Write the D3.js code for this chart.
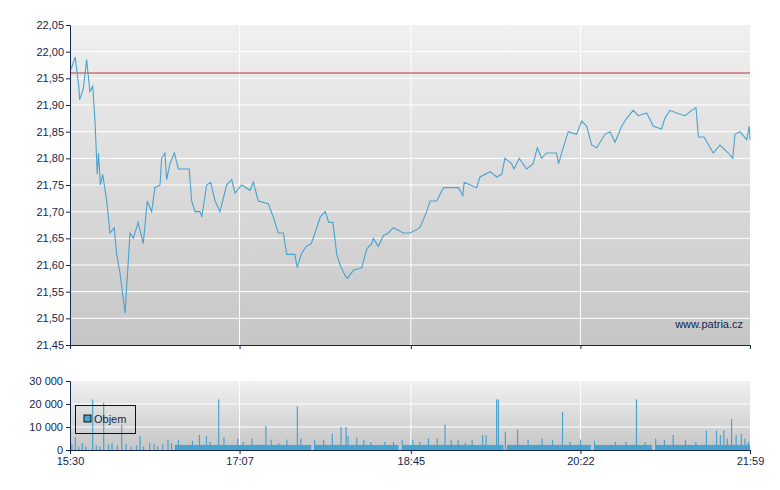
<!DOCTYPE html>
<html><head><meta charset="utf-8">
<script src="https://cdn.jsdelivr.net/npm/d3@7"></script>
<style>body{margin:0;background:#fff}text{font-family:"Liberation Sans",Arial,sans-serif;font-size:11px;fill:#132650}</style>
</head><body><svg id="c" width="780" height="490"></svg>
<script>
// minutes since 15:30, price
const priceMinutes = [0.6,3,5,5.5,7.6,9.5,11.4,13,14.3,15.6,16.3,17.4,18.7,21,22.9,25.3,26.7,28.6,31.5,33.4,34.3,36.2,39,41.9,44.2,46.7,48.6,51.5,52.4,54.3,55.3,57.2,59.7,62,64.8,68.2,69.6,71.5,74.4,75.4,78.2,80.4,83,85.8,89.6,92.5,94.4,98.2,103,104.9,107.7,113.4,116.3,119.2,122,124,128.6,130,132.3,135.1,138,140.2,143.1,146,148,150.4,152.6,154.5,157.4,158.7,162.1,166.9,169.7,172.6,173.5,176.4,179.2,182.1,185,190.7,194.5,200.2,204,206,209.8,213.6,222.2,224.7,225.5,232.6,234.5,240.3,244.1,247,248.8,252.6,254,257,261.2,265,267.3,269.8,272.6,278.3,279.5,282.2,285,289.8,292.7,295.6,298.4,301.3,306,308.9,311.8,315.6,318.4,322.2,325.1,329.9,333.7,338.4,340.3,343.2,347,351.8,355.6,358.1,359.5,362.7,368,371.8,376.6,379.1,380.4,383.3,387.1,388.6,389];
const priceValues = [21.967,21.99,21.935,21.91,21.93,21.985,21.925,21.935,21.87,21.77,21.81,21.75,21.77,21.72,21.66,21.67,21.62,21.585,21.51,21.61,21.66,21.65,21.68,21.64,21.72,21.70,21.745,21.75,21.80,21.81,21.76,21.79,21.81,21.78,21.78,21.78,21.72,21.70,21.70,21.69,21.75,21.755,21.72,21.70,21.75,21.76,21.735,21.75,21.74,21.755,21.72,21.715,21.69,21.66,21.66,21.62,21.62,21.595,21.62,21.635,21.64,21.66,21.69,21.70,21.68,21.68,21.62,21.60,21.58,21.575,21.59,21.595,21.63,21.64,21.65,21.635,21.655,21.66,21.67,21.66,21.66,21.67,21.70,21.72,21.72,21.745,21.745,21.73,21.755,21.745,21.765,21.775,21.765,21.77,21.80,21.79,21.78,21.80,21.78,21.79,21.82,21.80,21.81,21.81,21.79,21.82,21.85,21.845,21.87,21.86,21.825,21.82,21.845,21.85,21.83,21.86,21.875,21.89,21.88,21.885,21.86,21.855,21.875,21.89,21.885,21.88,21.89,21.895,21.84,21.84,21.81,21.825,21.81,21.80,21.845,21.85,21.835,21.86,21.835];
const referencePrice = 21.96;
// individual volume bars: minute, volume
const volMinutes = [1,3,5,7,9,12.9,15,17,19.2,22,24,27,29.5,32,35,38,40,42,45.5,48,50,53,56,58,62,70,74,78,80,85,88,96,99,104,108,112,115,119.3,124,130,132,139.9,145,150,155,157.9,159,164,168,172,180,185,190,196,200,205,210,214.5,218,222,226,230,236,238,244,245,249,256,262,270,276,281.7,286,292,300,312,318,324,329,335,340,345,352,358,364,369.8,372,374,376,378.4,381,384,386,388];
const volValues = [2500,5500,1500,3000,1500,22000,2000,1500,20500,2500,3000,2000,11000,2500,1500,2000,6000,1500,3000,2500,1500,2500,4500,3000,4500,4000,6500,6000,3500,22000,5500,5000,3500,5000,2500,10500,4500,3000,4500,19000,5000,4500,4500,7000,10000,10000,6000,5500,4500,3500,3500,3500,4500,4500,3500,5000,5000,11000,4500,4500,3000,4500,6500,6500,22000,22000,8000,9000,4500,5000,4500,16500,3500,4500,4000,3500,3500,22000,3500,5000,4500,6500,4500,3500,8500,8500,6500,8500,5000,13500,6500,7000,5000,3500];
// runs of low continuous volume: start minute, end minute, volume
const lowRunStart = [60,140,190,250,300,335];
const lowRunEnd = [138,188,248,298,333,389];
const lowRunValue = [2200,2200,2200,2200,2200,2200];
const timeTicks = [0,97,195,292,389];
const timeLabels = ["15:30","17:07","18:45","20:22","21:59"];
const priceTicks = [21.45,21.50,21.55,21.60,21.65,21.70,21.75,21.80,21.85,21.90,21.95,22.00,22.05];
const volTicks = [0,10000,20000,30000];

const svg = d3.select("#c");
const L=70,R=750,T1=25,B1=345,T2=381,B2=450;
const x = d3.scaleLinear().domain([0,389]).range([L,R]);
const y = d3.scaleLinear().domain([21.45,22.05]).range([B1,T1]);
const yv = d3.scaleLinear().domain([0,30000]).range([B2,T2]);
const grad = svg.append("defs").append("linearGradient").attr("id","g").attr("x1",0).attr("y1",0).attr("x2",0).attr("y2",1);
grad.append("stop").attr("offset",0).attr("stop-color","#f0f0f0");
grad.append("stop").attr("offset",1).attr("stop-color","#c6c6c6");
[[T1,B1],[T2,B2]].forEach(([t,b])=>svg.append("rect").attr("x",L).attr("y",t).attr("width",R-L).attr("height",b-t).attr("fill","url(#g)"));
const fmt = d3.format(".2f");
// grids
svg.append("g").selectAll("line").data(priceTicks.slice(1,-1)).join("line").attr("x1",L).attr("x2",R).attr("y1",d=>y(d)).attr("y2",d=>y(d)).attr("stroke","#fff");
svg.append("g").selectAll("line").data(volTicks.slice(1,-1)).join("line").attr("x1",L).attr("x2",R).attr("y1",d=>yv(d)).attr("y2",d=>yv(d)).attr("stroke","#fff");
[[T1,B1],[T2,B2]].forEach(([t,b])=>svg.append("g").selectAll("line").data(timeTicks.slice(1,-1)).join("line").attr("x1",d=>x(d)).attr("x2",d=>x(d)).attr("y1",t).attr("y2",b).attr("stroke","#fff"));
svg.append("line").attr("x1",L).attr("x2",R).attr("y1",y(referencePrice)).attr("y2",y(referencePrice)).attr("stroke","#b83a3a");
const pts = priceMinutes.map((m,i)=>[m,priceValues[i]]);
svg.append("path").datum(pts).attr("fill","none").attr("stroke","#4aa3cf").attr("stroke-width",1.1).attr("d",d3.line().x(d=>x(d[0])).y(d=>y(d[1])));
svg.append("text").attr("x",743).attr("y",328).attr("text-anchor","end").text("www.patria.cz");
// volume
svg.append("g").selectAll("rect").data(lowRunStart.map((s,i)=>[s,lowRunEnd[i],lowRunValue[i]])).join("rect")
 .attr("x",d=>x(d[0])).attr("width",d=>x(d[1])-x(d[0])).attr("y",d=>yv(d[2])).attr("height",d=>B2-yv(d[2])).attr("fill","#4aa3cf");
svg.append("g").selectAll("rect").data(volMinutes.map((m,i)=>[m,volValues[i]])).join("rect")
 .attr("x",d=>x(d[0])-0.5).attr("width",1.2).attr("y",d=>yv(d[1])).attr("height",d=>B2-yv(d[1])).attr("fill","#4aa3cf");
// axes
const ax = g=>g.selectAll("path,line").attr("stroke","#132650");
svg.append("g").attr("transform",`translate(${L},0)`).call(d3.axisLeft(y).tickValues(priceTicks).tickFormat(d=>fmt(d).replace(".",",")).tickSize(4)).call(ax).call(g=>g.selectAll("text").attr("x",-6));
svg.append("g").attr("transform",`translate(0,${B1})`).call(d3.axisBottom(x).tickValues(timeTicks).tickFormat("").tickSize(4).tickSizeOuter(0)).call(ax);
svg.append("g").attr("transform",`translate(${L},0)`).call(d3.axisLeft(yv).tickValues(volTicks).tickFormat(d=>d3.format(",")(d).replace(","," ")).tickSize(4)).call(ax);
svg.append("g").attr("transform",`translate(0,${B2})`).call(d3.axisBottom(x).tickValues(timeTicks).tickFormat((d,i)=>timeLabels[i]).tickSize(4).tickSizeOuter(0)).call(ax);
svg.selectAll(".domain").attr("stroke","#132650");
svg.selectAll(".tick text").style("font-size","11px").attr("fill","#132650");
// legend
svg.append("rect").attr("x",75.5).attr("y",405.5).attr("width",60).attr("height",28).attr("fill","none").attr("stroke","#111");
svg.append("rect").attr("x",84).attr("y",415).attr("width",7).attr("height",7).attr("fill","#4aa3cf").attr("stroke","#111");
svg.append("text").attr("x",94).attr("y",423).text("Objem");
</script></body></html>
